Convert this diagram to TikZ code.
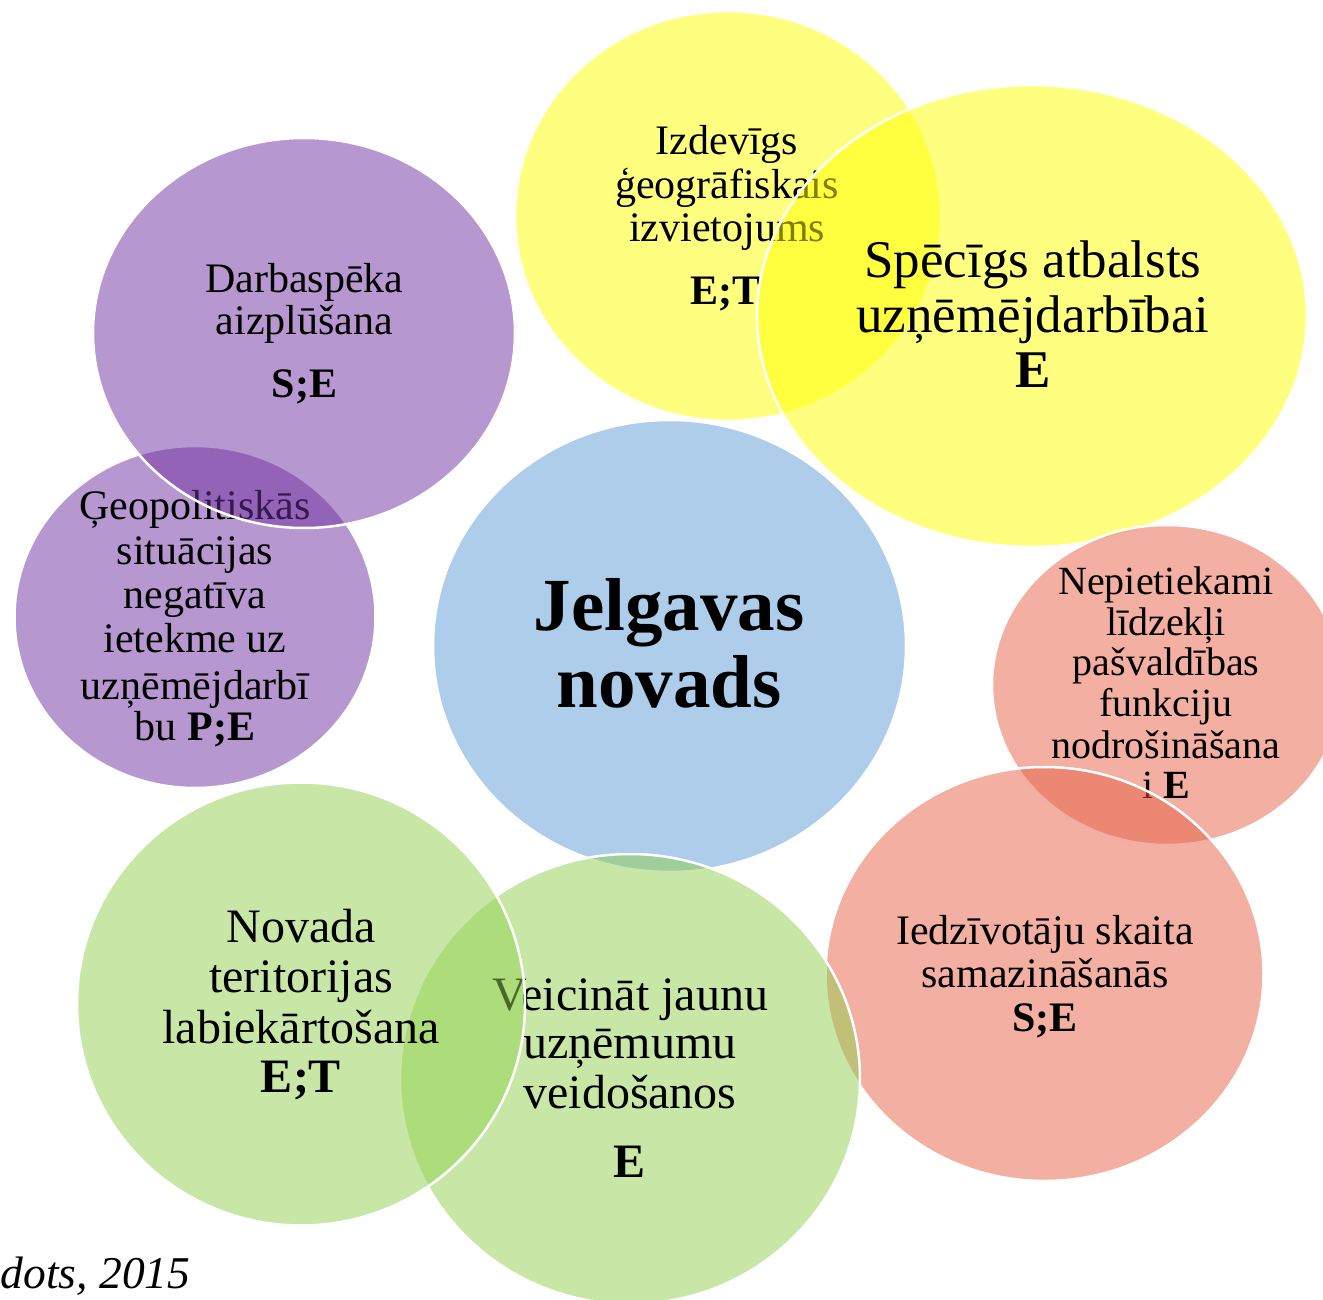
\documentclass[tikz,border=0pt]{standalone}
\usepackage{fontspec}
\setmainfont{Liberation Serif}
\usetikzlibrary{shapes.geometric}
\definecolor{cpurple}{RGB}{112,48,160}
\definecolor{cyellow}{RGB}{255,255,0}
\definecolor{cblue}{RGB}{91,155,213}
\definecolor{cgreen}{RGB}{146,208,80}
\definecolor{cred}{RGB}{229,95,69}
\begin{document}
\begin{tikzpicture}[x=1pt,y=-1pt,
  bubble/.style={ellipse, draw=white, line width=2.5pt, fill opacity=0.5, inner sep=0pt, outer sep=0pt},
  ln/.style={anchor=base, inner sep=0pt, text=black},
  fsmall/.style={font=\fontsize{40}{41}\selectfont},
  fnorm/.style={font=\fontsize{42}{44}\selectfont},
  fmid/.style={font=\fontsize{48}{50}\selectfont},
  fbig/.style={font=\fontsize{53}{55}\selectfont},
  fhuge/.style={font=\fontsize{75}{77}\selectfont\bfseries},
  fsrc/.style={font=\fontsize{45.5}{50}\selectfont\itshape}
]
\useasboundingbox (0,0) rectangle (1323,1300);

% yellow 1
\node[bubble, fill=cyellow, minimum width=426pt, minimum height=410pt] (y1) at (728,216) {};
\node[ln,fnorm] (y1a) at (727,155) {Izdevīgs};
\node[ln,fnorm] (y1b) at (727,199) {ģeogrāfiskais};
\node[ln,fnorm] (y1c) at (727,242) {izvietojums};
\node[ln,fnorm] (y1d) at (725,304) {\textbf{E;T}};

% yellow 2
\node[bubble, fill=cyellow, minimum width=550pt, minimum height=462pt] (y2) at (1032,316) {};
\node[ln,fbig] (y2a) at (1033,277) {Spēcīgs atbalsts};
\node[ln,fbig] (y2b) at (1033,332) {uzņēmējdarbībai};
\node[ln,fbig] (y2c) at (1033,387) {\textbf{E}};

% red 1
\node[bubble, fill=cred, minimum width=350pt, minimum height=320pt] (r1) at (1167,685) {};
\node[ln,fsmall] (r1a) at (1166,594) {Nepietiekami};
\node[ln,fsmall] (r1b) at (1166,635) {līdzekļi};
\node[ln,fsmall] (r1c) at (1166,675) {pašvaldības};
\node[ln,fsmall] (r1d) at (1166,716.5) {funkciju};
\node[ln,fsmall] (r1e) at (1166,758) {nodrošināšana};
\node[ln,fsmall] (r1f) at (1166,798) {i \textbf{E}};

% red 2
\node[bubble, fill=cred, minimum width=438pt, minimum height=414pt] (r2) at (1044.5,974) {};
\node[ln,fnorm] (r2a) at (1045,944) {Iedzīvotāju skaita};
\node[ln,fnorm] (r2b) at (1045,987) {samazināšanās};
\node[ln,fnorm] (r2c) at (1045,1031) {\textbf{S;E}};

% blue centre
\node[bubble, fill=cblue, minimum width=473pt, minimum height=452pt] (bl) at (669.5,646) {};
\node[ln,fhuge] (bla) at (669,630) {Jelgavas};
\node[ln,fhuge] (blb) at (669,707) {novads};

% green 2
\node[bubble, fill=cgreen, minimum width=460pt, minimum height=450pt] (g2) at (630,1079) {};
\node[ln,fmid] (g2a) at (630,1010) {Veicināt jaunu};
\node[ln,fmid] (g2b) at (630,1058) {uzņēmumu};
\node[ln,fmid] (g2c) at (630,1108) {veidošanos};
\node[ln,fmid] (g2d) at (630,1177) {\textbf{E}};

% green 1
\node[bubble, fill=cgreen, minimum width=448pt, minimum height=443pt] (g1) at (301,1004) {};
\node[ln,fmid] (g1a) at (301,942.5) {Novada};
\node[ln,fmid] (g1b) at (301,992.5) {teritorijas};
\node[ln,fmid] (g1c) at (301,1043) {labiekārtošana};
\node[ln,fmid] (g1d) at (301,1092) {\textbf{E;T}};

% purple 2
\node[bubble, fill=cpurple, minimum width=361pt, minimum height=342pt] (p2) at (195,617) {};
\node[ln,fnorm] (p2a) at (195,519) {Ģeopolitiskās};
\node[ln,fnorm] (p2b) at (195,564.5) {situācijas};
\node[ln,fnorm] (p2c) at (195,608) {negatīva};
\node[ln,fnorm] (p2d) at (195,652.5) {ietekme uz};
\node[ln,fnorm] (p2e) at (195,699) {uzņēmējdarbī};
\node[ln,fnorm] (p2f) at (195,740) {bu \textbf{P;E}};

% purple 1
\node[bubble, fill=cpurple, minimum width=422pt, minimum height=390pt] (p1) at (304,333) {};
\node[ln,fnorm] (p1a) at (304.5,292) {Darbaspēka};
\node[ln,fnorm] (p1b) at (304.5,334) {aizplūšana};
\node[ln,fnorm] (p1c) at (304.5,397) {\textbf{S;E}};

% source
\node[fsrc, anchor=base west, inner sep=0pt] (src) at (0.5,1288) {dots, 2015};
\end{tikzpicture}
\end{document}
